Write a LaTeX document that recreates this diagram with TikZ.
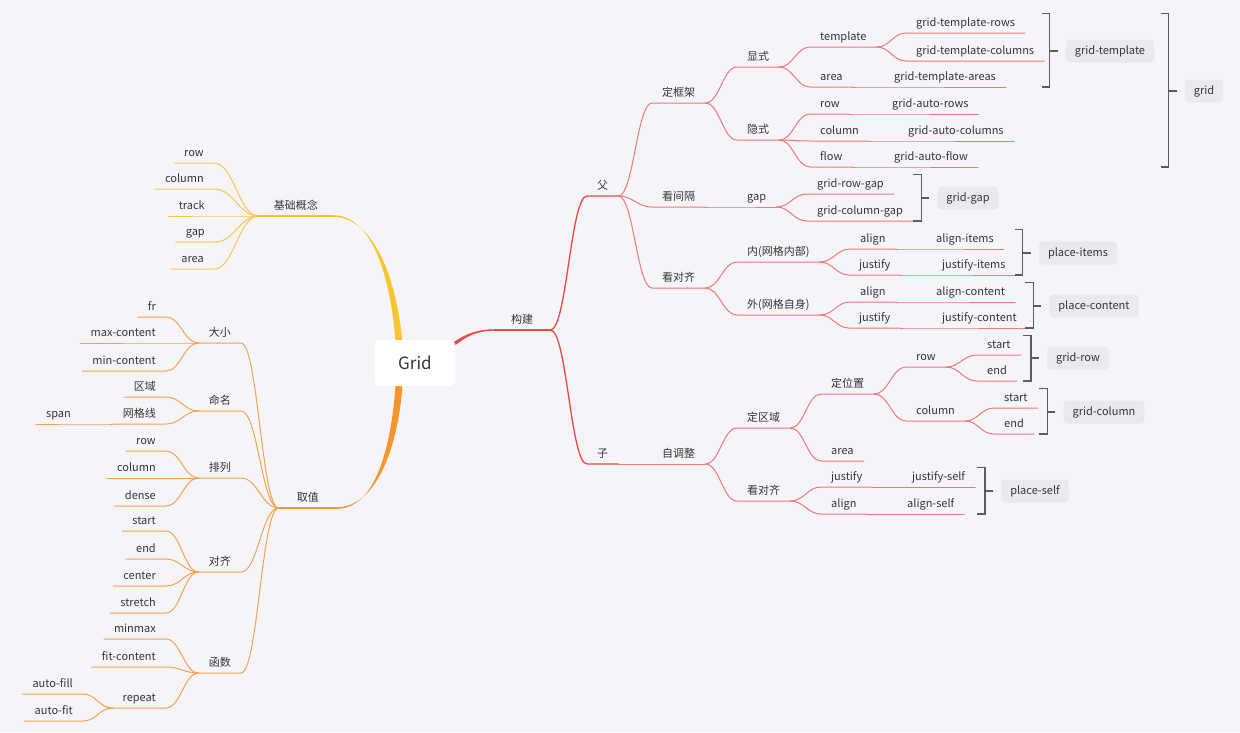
\documentclass[tikz,border=0pt]{standalone}
\usepackage{fontspec}
\setmainfont{Noto Sans CJK SC}
\usetikzlibrary{calc,backgrounds}
\definecolor{bgpaper}{HTML}{F5F5F9}
\definecolor{inkdark}{HTML}{353535}
\definecolor{brkgrey}{HTML}{5C5C5C}
\definecolor{labgrey}{HTML}{EAEAEE}
\definecolor{redmain}{HTML}{E84A3F}
\definecolor{redsub}{HTML}{F07874}
\definecolor{yelmain}{HTML}{F9C52F}
\definecolor{yelsub}{HTML}{F8C64C}
\definecolor{orgmain}{HTML}{F6952B}
\definecolor{orgsub}{HTML}{F5A24E}
\tikzset{
  mm/.style={font=\fontsize{11}{13}\selectfont, text=inkdark, inner xsep=10pt, inner ysep=4pt,
             text height=9pt, text depth=2pt},
  mm r/.style={mm, anchor=south west},
  mm l/.style={mm, anchor=south east},
  mm lab/.style={font=\fontsize{11}{13}\selectfont, text=inkdark, fill=labgrey, rounded corners=4pt,
                 inner xsep=9pt, minimum height=23pt, text height=8pt, text depth=2pt},
  mm link/.style={to path={.. controls ($(\tikztostart)!.45!(\tikztotarget |- \tikztostart)$)
                  and ($(\tikztotarget)!.45!(\tikztostart |- \tikztotarget)$) .. (\tikztotarget)}},
  mm red1/.style={draw=redmain, line width=1.3pt, line cap=round},
  mm red/.style={draw=redsub, line width=1pt, line cap=round},
  mm yel/.style={draw=yelsub, line width=1pt, line cap=round},
  mm org/.style={draw=orgsub, line width=1pt, line cap=round},
  mm brk/.style={draw=brkgrey, line width=1.3pt},
}
\newcommand\mmbrace[3]{%
  \draw[mm brk] ([xshift=-24pt]#1.west |- #2.north) -- ([xshift=-16pt]#1.west |- #2.north)
     -- ([xshift=-16pt]#1.west |- #3.south) -- ([xshift=-24pt]#1.west |- #3.south);
  \draw[mm brk] ([xshift=-16pt]#1.west) -- ([xshift=-8pt]#1.west);}
\begin{document}
\begin{tikzpicture}[x=1pt, y=-1pt]
  \useasboundingbox (0,0) rectangle (1240,732);
  % root
  \node[fill=white, rounded corners=6pt, minimum width=81pt, minimum height=46pt,
        font=\fontsize{17}{20}\selectfont, text=inkdark] (root) at (415,363) {Grid};
  % right: build
  \node[mm r, inner xsep=17pt] (build) at (494,330) {构建};
  \node[mm r] (parent) at (587,196) {父};
  \node[mm r] (child) at (587,464) {子};
  \node[mm r] (frame) at (652,103) {定框架};
  \node[mm r] (spacing) at (652,207) {看间隔};
  \node[mm r] (alignP) at (652,288) {看对齐};
  \node[mm r] (selfadj) at (652,464) {自调整};
  \node[mm r] (explicit) at (737,67) {显式};
  \node[mm r] (implicit) at (737,140) {隐式};
  \node[mm r] (tmpl) at (810,47) {template};
  \node[mm r] (areaT) at (810,87) {area};
  \node[mm r] (rowI) at (810,114) {row};
  \node[mm r] (colI) at (810,141) {column};
  \node[mm r] (flowI) at (810,167) {flow};
  \node[mm r] (gtr) at (906,33) {grid-template-rows};
  \node[mm r] (gtc) at (906,61) {grid-template-columns};
  \node[mm r] (gta) at (884,87) {grid-template-areas};
  \node[mm r] (gar) at (882,114) {grid-auto-rows};
  \node[mm r] (gac) at (898,141) {grid-auto-columns};
  \node[mm r] (gaf) at (884,167) {grid-auto-flow};
  \node[mm r] (gapK) at (737,207) {gap};
  \node[mm r] (grg) at (807,194) {grid-row-gap};
  \node[mm r] (gcg) at (807,221) {grid-column-gap};
  \node[mm r] (innerP) at (737,262) {内(网格内部)};
  \node[mm r] (outerP) at (737,315) {外(网格自身)};
  \node[mm r] (alIn) at (850,249) {align};
  \node[mm r] (juIn) at (849,275) {justify};
  \node[mm r] (alOut) at (850,302) {align};
  \node[mm r] (juOut) at (849,328) {justify};
  \node[mm r] (ai) at (926,249) {align-items};
  \node[mm r] (ji) at (932,275) {justify-items};
  \node[mm r] (ac) at (926,302) {align-content};
  \node[mm r] (jc) at (932,328) {justify-content};
  \node[mm r] (region) at (737,428) {定区域};
  \node[mm r] (alignC) at (737,501) {看对齐};
  \node[mm r] (placeC) at (821,394) {定位置};
  \node[mm r] (areaC) at (821,461) {area};
  \node[mm r] (rowC) at (906,367) {row};
  \node[mm r] (colC) at (906,421) {column};
  \node[mm r] (rStart) at (977,355) {start};
  \node[mm r] (rEnd) at (977,381) {end};
  \node[mm r] (cStart) at (994,408) {start};
  \node[mm r] (cEnd) at (994,434) {end};
  \node[mm r] (juC) at (821,487) {justify};
  \node[mm r] (alC) at (821,514) {align};
  \node[mm r] (juS) at (902,487) {justify-self};
  \node[mm r] (alS) at (897,514) {align-self};
  % property labels with brackets
  \node[mm lab] (lbTmpl) at (1110,51) {grid-template};
  \node[mm lab] (lbGrid) at (1204,91) {grid};
  \node[mm lab] (lbGap) at (968,198) {grid-gap};
  \node[mm lab] (lbItems) at (1078,253) {place-items};
  \node[mm lab] (lbContent) at (1094,306) {place-content};
  \node[mm lab] (lbRow) at (1078,358) {grid-row};
  \node[mm lab] (lbCol) at (1104,412) {grid-column};
  \node[mm lab] (lbSelf) at (1035,491) {place-self};
  \mmbrace{lbTmpl}{gtr}{gta}
  \mmbrace{lbGrid}{gtr}{gaf}
  \mmbrace{lbGap}{grg}{gcg}
  \mmbrace{lbItems}{ai}{ji}
  \mmbrace{lbContent}{ac}{jc}
  \mmbrace{lbRow}{rStart}{rEnd}
  \mmbrace{lbCol}{cStart}{cEnd}
  \mmbrace{lbSelf}{juS}{alS}
  % left: basics
  \node[mm l, inner xsep=15pt] (basics) at (333,216) {基础概念};
  \node[mm l] (bRow) at (214,163) {row};
  \node[mm l] (bCol) at (214,189) {column};
  \node[mm l] (bTrack) at (215,216) {track};
  \node[mm l] (bGap) at (215,242) {gap};
  \node[mm l] (bArea) at (214,269) {area};
  % left: values
  \node[mm l, inner xsep=18pt] (values) at (337,508) {取值};
  \node[mm l] (vSize) at (241,343) {大小};
  \node[mm l] (vName) at (241,411) {命名};
  \node[mm l] (vFlow) at (241,478) {排列};
  \node[mm l] (vAlign) at (241,572) {对齐};
  \node[mm l] (vFunc) at (241,673) {函数};
  \node[mm l] (fr) at (166,317) {fr};
  \node[mm l] (maxC) at (166,343) {max-content};
  \node[mm l] (minC) at (166,371) {min-content};
  \node[mm l] (nArea) at (166,397) {区域};
  \node[mm l] (nLine) at (166,424) {网格线};
  \node[mm l] (span) at (81,424) {span};
  \node[mm l] (fRow) at (166,451) {row};
  \node[mm l] (fCol) at (166,478) {column};
  \node[mm l] (fDense) at (166,506) {dense};
  \node[mm l] (aStart) at (166,531) {start};
  \node[mm l] (aEnd) at (166,559) {end};
  \node[mm l] (aCenter) at (166,586) {center};
  \node[mm l] (aStretch) at (166,613) {stretch};
  \node[mm l] (fnMin) at (166,639) {minmax};
  \node[mm l] (fnFit) at (166,667) {fit-content};
  \node[mm l] (fnRep) at (166,708) {repeat};
  \node[mm l] (rFill) at (83,694) {auto-fill};
  \node[mm l] (rFit) at (83,721) {auto-fit};
  \begin{scope}[on background layer]
    \fill[bgpaper] (0,0) rectangle (1240,732);
    % tapered main branches
    \fill[redmain] ([shift={(3,4)}]root.center) .. controls +(31,-19) and +(-33,0) .. ([yshift=0.7pt]build.south west)
       -- ([yshift=-0.7pt]build.south west) .. controls +(-33,0) and +(30,-21) .. ([shift={(7,10)}]root.center) -- cycle;
    \fill[yelmain] ([yshift=0.8pt]basics.south east) .. controls +(40,0) and +(-4,-70) .. ([shift={(-19,-13)}]root.center)
       -- ([shift={(-12,-13)}]root.center) .. controls +(-5,-72) and +(40,0) .. ([yshift=-0.8pt]basics.south east) -- cycle;
    \fill[orgmain] ([yshift=-0.8pt]values.south east) .. controls +(38,0) and +(-4,70) .. ([shift={(-19,15)}]root.center)
       -- ([shift={(-12,15)}]root.center) .. controls +(-4,72) and +(38,0) .. ([yshift=0.8pt]values.south east) -- cycle;
    \draw[mm red1] (build.south west) -- (build.south east);
    \draw[draw=yelmain, line width=1.5pt] (basics.south east) -- (basics.south west);
    \draw[draw=orgmain, line width=1.5pt] (values.south east) -- (values.south west);
    % right branches
    \foreach \a/\b in {build/parent, build/child}
      \draw[mm red1] (\a.south east) to[mm link] (\b.south west) -- (\b.south east);
    \foreach \a/\b in {parent/frame, parent/spacing, parent/alignP, child/selfadj,
                       frame/explicit, frame/implicit, explicit/tmpl, explicit/areaT,
                       tmpl/gtr, tmpl/gtc, areaT/gta, implicit/rowI, implicit/colI, implicit/flowI,
                       rowI/gar, colI/gac, flowI/gaf, spacing/gapK, gapK/grg, gapK/gcg,
                       alignP/innerP, alignP/outerP, innerP/alIn, innerP/juIn, alIn/ai, juIn/ji,
                       outerP/alOut, outerP/juOut, alOut/ac, juOut/jc,
                       selfadj/region, selfadj/alignC, region/placeC, region/areaC,
                       placeC/rowC, placeC/colC, rowC/rStart, rowC/rEnd, colC/cStart, colC/cEnd,
                       alignC/juC, alignC/alC, juC/juS, alC/alS}
      \draw[mm red] (\a.south east) to[mm link] (\b.south west) -- (\b.south east);
    % left branches
    \foreach \b in {bRow, bCol, bTrack, bGap, bArea}
      \draw[mm yel] (basics.south west) to[mm link] (\b.south east) -- (\b.south west);
    \foreach \a/\b in {values/vSize, values/vName, values/vFlow, values/vAlign, values/vFunc,
                       vSize/fr, vSize/maxC, vSize/minC, vName/nArea, vName/nLine, nLine/span,
                       vFlow/fRow, vFlow/fCol, vFlow/fDense,
                       vAlign/aStart, vAlign/aEnd, vAlign/aCenter, vAlign/aStretch,
                       vFunc/fnMin, vFunc/fnFit, vFunc/fnRep, fnRep/rFill, fnRep/rFit}
      \draw[mm org] (\a.south west) to[mm link] (\b.south east) -- (\b.south west);
  \end{scope}
\end{tikzpicture}
\end{document}
